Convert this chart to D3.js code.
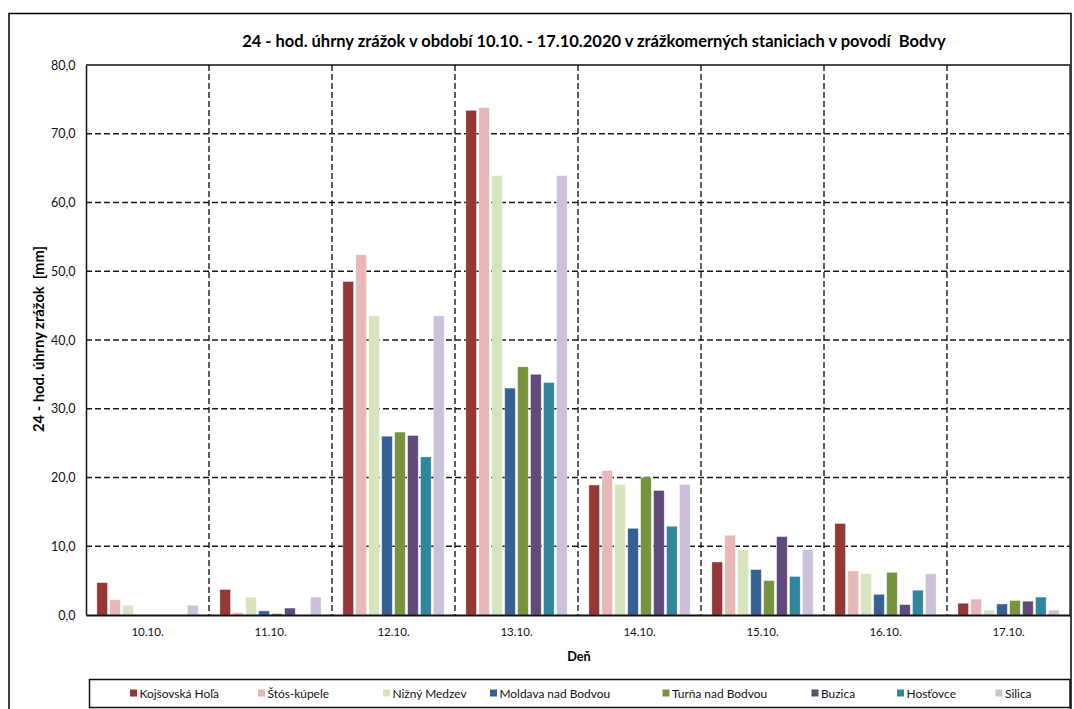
<!DOCTYPE html>
<html>
<head>
<meta charset="utf-8">
<script src="https://cdn.jsdelivr.net/npm/d3@7"></script>
<style>
  html, body { margin: 0; padding: 0; background: #fff; }
  svg { display: block; font-family: Lato, "Open Sans", sans-serif; }
  text { white-space: pre; }
</style>
</head>
<body>
<svg id="chart" width="1074" height="709"></svg>
<script>
// ---- Data ----
const categories = ["10.10.", "11.10.", "12.10.", "13.10.", "14.10.", "15.10.", "16.10.", "17.10."];
const seriesNames = ["Kojšovská Hoľa", "Štós-kúpele", "Nižný Medzev", "Moldava nad Bodvou", "Turňa nad Bodvou", "Buzica", "Hosťovce", "Silica"];
const kojsovskaHola = [4.7, 3.7, 48.5, 73.4, 18.9, 7.7, 13.3, 1.7];
const stosKupele    = [2.2, 0.35, 52.4, 73.8, 21.0, 11.6, 6.4, 2.3];
const niznyMedzev   = [1.4, 2.6, 43.5, 63.9, 19.0, 9.5, 6.0, 0.7];
const moldava       = [0, 0.6, 26.0, 33.0, 12.6, 6.6, 3.0, 1.6];
const turna         = [0, 0.2, 26.6, 36.1, 20.0, 5.0, 6.2, 2.1];
const buzica        = [0, 1.0, 26.1, 35.0, 18.1, 11.4, 1.5, 2.0];
const hostovce      = [0, 0, 23.0, 33.8, 12.9, 5.6, 3.6, 2.6];
const silica        = [1.4, 2.6, 43.5, 63.9, 19.0, 9.5, 6.0, 0.7];
const yTicks = [0, 10, 20, 30, 40, 50, 60, 70, 80];
const colors = ["#953735", "#E6B9B8", "#D7E4BD", "#376092", "#77933C", "#604A7B", "#31859C", "#CCC1DA"];

const chartTitle = "24 - hod. úhrny zrážok v období 10.10. - 17.10.2020 v zrážkomerných staniciach v povodí  Bodvy";
const yTitle = "24 - hod. úhrny zrážok  [mm]";
const xTitle = "Deň";

const seriesValues = [kojsovskaHola, stosKupele, niznyMedzev, moldava, turna, buzica, hostovce, silica];

// ---- Layout ----
const svg = d3.select("#chart");
const plot = { left: 86, right: 1070, top: 65, bottom: 615 };

// fit font-size so a sample text reaches a target width
function fitSize(text, target, weight, base) {
  const t = svg.append("text").attr("font-size", base).attr("font-weight", weight).text(text);
  const w = t.node().getComputedTextLength();
  t.remove();
  return w > 0 ? base * target / w : base;
}
const titleSize = fitSize(chartTitle, 704, "bold", 14);
const yTitleSize = fitSize(yTitle, 186, "bold", 12);
const xTitleSize = fitSize(xTitle, 23.5, "bold", 12);
const yTickSize = fitSize("80,0", 24.6, "normal", 12);
const xTickSize = fitSize("10.10.", 32.3, "normal", 12);
const legendSize = fitSize("Kojšovská Hoľa", 79.5, "normal", 12);

// outer border
svg.append("rect")
  .attr("x", 9).attr("y", 13.5)
  .attr("width", 1062).attr("height", 710)
  .attr("fill", "none").attr("stroke", "#000").attr("stroke-width", 1.5);

const x0 = d3.scaleBand().domain(categories).range([plot.left, plot.right]).padding(0);
const catPad = 9.7;
const x1 = d3.scaleBand().domain(d3.range(seriesNames.length))
  .range([catPad, x0.bandwidth() - catPad]).padding(0);
const y = d3.scaleLinear().domain([0, 80]).range([plot.bottom, plot.top]);

// horizontal dashed gridlines
svg.append("g").selectAll("line")
  .data(yTicks.filter(d => d > 0 && d < 80))
  .join("line")
  .attr("x1", plot.left).attr("x2", plot.right)
  .attr("y1", d => y(d)).attr("y2", d => y(d))
  .attr("stroke", "#1a1a1a").attr("stroke-width", 1.4)
  .attr("stroke-dasharray", "6,3");

// vertical dashed category separators
svg.append("g").selectAll("line")
  .data(categories.slice(1))
  .join("line")
  .attr("x1", d => x0(d)).attr("x2", d => x0(d))
  .attr("y1", plot.top).attr("y2", plot.bottom)
  .attr("stroke", "#1a1a1a").attr("stroke-width", 1.4)
  .attr("stroke-dasharray", "6,3");

// bars
const barData = [];
categories.forEach((c, ci) => {
  seriesValues.forEach((vals, si) => {
    barData.push({ cat: c, s: si, v: vals[ci] });
  });
});
svg.append("g").selectAll("rect")
  .data(barData.filter(d => d.v > 0))
  .join("rect")
  .attr("x", d => x0(d.cat) + x1(d.s) + 1.2)
  .attr("width", x1.bandwidth() - 2.4)
  .attr("y", d => y(d.v))
  .attr("height", d => y(0) - y(d.v))
  .attr("fill", d => colors[d.s])
  .attr("stroke", "#fff").attr("stroke-opacity", 0.35).attr("stroke-width", 0.8);

// plot frame: top & right solid
svg.append("line").attr("x1", plot.left).attr("x2", plot.right).attr("y1", plot.top).attr("y2", plot.top)
  .attr("stroke", "#111").attr("stroke-width", 1.5);
svg.append("line").attr("x1", plot.right).attr("x2", plot.right).attr("y1", plot.top).attr("y2", plot.bottom)
  .attr("stroke", "#333").attr("stroke-width", 1.5);

// y axis
const fmt = d => d3.format(".1f")(d).replace(".", ",");
const yAxis = d3.axisLeft(y).tickValues(yTicks).tickFormat(fmt).tickSize(0).tickPadding(10.5);
const gy = svg.append("g").attr("transform", `translate(${plot.left},0)`).call(yAxis);
gy.select(".domain").attr("stroke", "#111").attr("stroke-width", 1.5);
gy.selectAll("text").attr("font-size", yTickSize).attr("fill", "#111").attr("font-family", "Lato, sans-serif");

// x axis
const xAxis = d3.axisBottom(x0).tickSize(0).tickPadding(13);
const gx = svg.append("g").attr("transform", `translate(0,${plot.bottom})`).call(xAxis);
gx.select(".domain").attr("stroke", "#111").attr("stroke-width", 2);
gx.selectAll("text").attr("font-size", xTickSize).attr("fill", "#111").attr("font-family", "Lato, sans-serif");

// titles
svg.append("text")
  .attr("x", 594).attr("y", 47)
  .attr("text-anchor", "middle")
  .attr("font-size", titleSize).attr("font-weight", "bold").attr("fill", "#000")
  .text(chartTitle);

svg.append("text")
  .attr("transform", "translate(44,339) rotate(-90)")
  .attr("text-anchor", "middle")
  .attr("font-size", yTitleSize).attr("font-weight", "bold").attr("fill", "#000")
  .text(yTitle);

svg.append("text")
  .attr("x", 579).attr("y", 661)
  .attr("text-anchor", "middle")
  .attr("font-size", xTitleSize).attr("font-weight", "bold").attr("fill", "#000")
  .text(xTitle);

// legend
const legendX = [130, 258, 383, 490, 662.5, 811.5, 897, 995.5];
svg.append("rect")
  .attr("x", 89.5).attr("y", 679.5).attr("width", 980.5).attr("height", 28)
  .attr("fill", "#fff").attr("stroke", "#111").attr("stroke-width", 1.5);
const lg = svg.append("g").selectAll("g")
  .data(seriesNames)
  .join("g")
  .attr("transform", (d, i) => `translate(${legendX[i]},693)`);
lg.append("rect").attr("x", 0).attr("y", -3.5).attr("width", 7).attr("height", 7)
  .attr("fill", (d, i) => colors[i]);
lg.append("text").attr("x", 9.5).attr("y", 4.5)
  .attr("font-size", legendSize).attr("fill", "#111")
  .text(d => d);
</script>
</body>
</html>
